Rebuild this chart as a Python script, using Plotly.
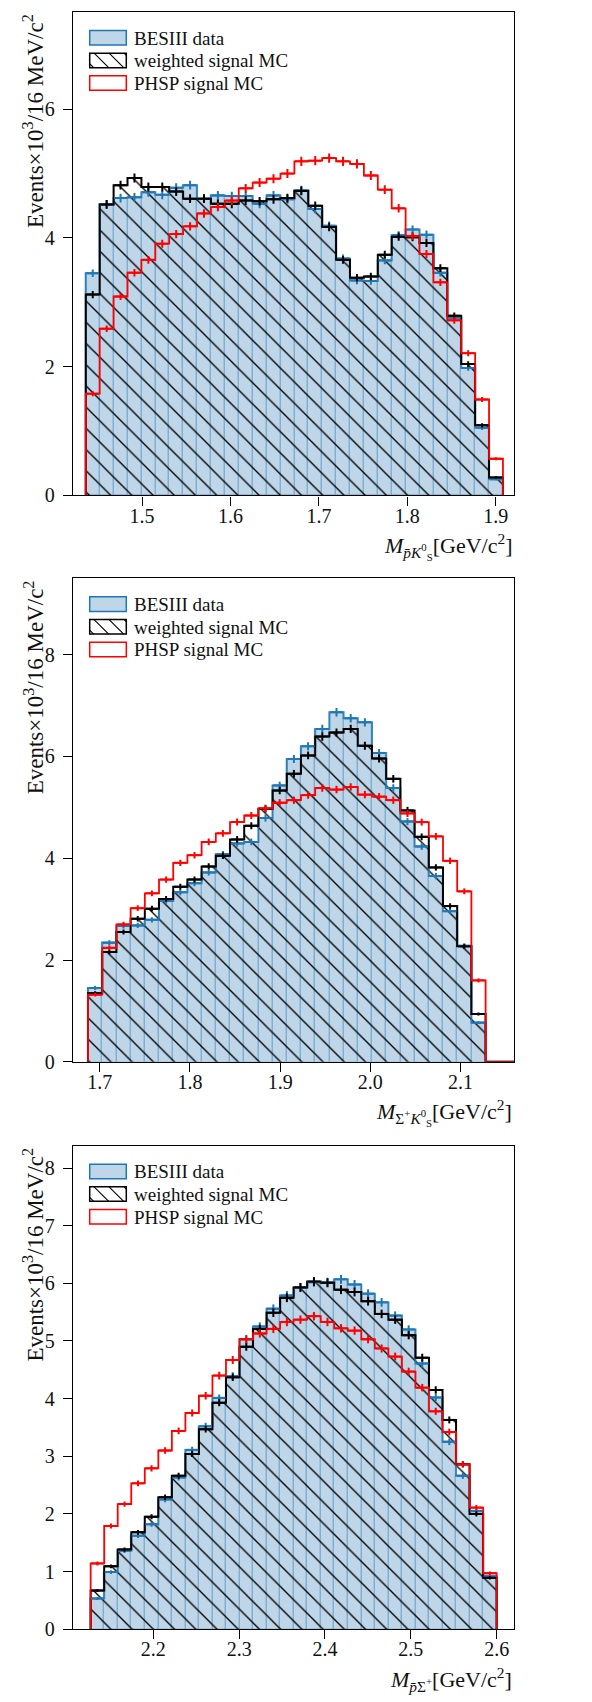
import numpy as np
import plotly.graph_objects as go

# ---------------- data (Events x 10^3 per bin) ----------------
# Panel 1: M(pbar K_S^0)
p1_lo, p1_binw, p1_nbins = 1.4363, 0.01573, 30
p1_data = [3.45, 4.52, 4.62, 4.63, 4.71, 4.67, 4.78, 4.82, 4.61, 4.66, 4.65, 4.65, 4.53, 4.66, 4.60,
           4.74, 4.45, 4.19, 3.68, 3.34, 3.33, 3.65, 4.04, 4.13, 4.05, 3.46, 2.76, 1.98, 1.05, 0.25]
p1_wmc = [3.12, 4.52, 4.82, 4.93, 4.79, 4.79, 4.72, 4.61, 4.61, 4.53, 4.53, 4.58, 4.57, 4.60, 4.62,
          4.73, 4.50, 4.17, 3.66, 3.38, 3.40, 3.74, 4.02, 4.01, 3.92, 3.53, 2.79, 2.04, 1.09, 0.28]
p1_phsp = [1.58, 2.59, 3.09, 3.46, 3.66, 3.91, 4.06, 4.18, 4.38, 4.48, 4.58, 4.77, 4.86, 4.92, 5.00,
           5.19, 5.20, 5.24, 5.19, 5.15, 4.97, 4.75, 4.46, 4.03, 3.75, 3.31, 2.72, 2.21, 1.49, 0.57]
p1_xticks = [1.5, 1.6, 1.7, 1.8, 1.9]
p1_yticks = [0, 2, 4, 6]

# Panel 2: M(Sigma+ K_S^0)
p2_lo, p2_binw, p2_nbins = 1.68707, 0.015737, 30
p2_data = [1.45, 2.34, 2.67, 2.68, 2.79, 3.16, 3.33, 3.51, 3.72, 4.08, 4.29, 4.32, 4.79, 5.43, 5.95,
           6.20, 6.54, 6.87, 6.75, 6.67, 6.07, 5.38, 4.72, 4.23, 3.65, 2.96, 2.28, 0.77, 0.0, 0.0]
p2_wmc = [1.35, 2.16, 2.55, 2.81, 3.01, 3.20, 3.44, 3.58, 3.84, 4.05, 4.37, 4.64, 4.97, 5.33, 5.66,
          6.02, 6.39, 6.47, 6.54, 6.21, 5.96, 5.56, 4.94, 4.42, 3.82, 3.06, 2.27, 0.94, 0.0, 0.0]
p2_phsp = [1.32, 2.24, 2.70, 3.02, 3.31, 3.58, 3.91, 4.06, 4.32, 4.49, 4.71, 4.84, 4.98, 5.09, 5.14,
           5.24, 5.38, 5.35, 5.40, 5.25, 5.21, 5.14, 4.88, 4.71, 4.43, 3.95, 3.35, 1.60, 0.0, 0.0]
p2_xticks = [1.7, 1.8, 1.9, 2.0, 2.1]
p2_yticks = [0, 2, 4, 6, 8]

# Panel 3: M(pbar Sigma+)
p3_lo, p3_binw, p3_nbins = 2.12699, 0.015767, 30
p3_data = [0.53, 0.99, 1.36, 1.62, 1.82, 2.25, 2.63, 3.11, 3.52, 4.01, 4.39, 5.03, 5.25, 5.56, 5.79,
           5.93, 6.02, 6.02, 6.07, 5.98, 5.82, 5.67, 5.44, 5.20, 4.61, 4.02, 3.25, 2.66, 2.05, 0.92]
p3_wmc = [0.67, 1.09, 1.38, 1.68, 1.95, 2.29, 2.66, 3.04, 3.47, 3.93, 4.37, 4.90, 5.21, 5.49, 5.75,
          5.93, 6.03, 6.01, 5.89, 5.85, 5.69, 5.47, 5.37, 5.10, 4.71, 4.15, 3.63, 2.86, 2.00, 0.89]
p3_phsp = [1.14, 1.79, 2.17, 2.53, 2.79, 3.10, 3.44, 3.75, 4.05, 4.40, 4.67, 5.03, 5.13, 5.21, 5.33,
           5.37, 5.43, 5.33, 5.22, 5.18, 5.03, 4.87, 4.73, 4.47, 4.19, 3.78, 3.42, 2.86, 2.11, 0.97]
p3_xticks = [2.2, 2.3, 2.4, 2.5, 2.6]
p3_yticks = [0, 1, 2, 3, 4, 5, 6, 7, 8]

legend_names = ["BESIII data", "weighted signal MC", "PHSP signal MC"]
ytitle = "Events×10<sup>3</sup>/16 MeV/c<sup>2</sup>"
xtitles = [
    "<i>M</i><sub><i>p̄K</i><sup>0</sup><sub>S</sub></sub>[GeV/c<sup>2</sup>]",
    "<i>M</i><sub>Σ<sup>+</sup><i>K</i><sup>0</sup><sub>S</sub></sub>[GeV/c<sup>2</sup>]",
    "<i>M</i><sub><i>p̄</i>Σ<sup>+</sup></sub>[GeV/c<sup>2</sup>]",
]

# ---------------- styling / layout ----------------
W, H = 592, 1702
FONT = "Liberation Serif"
TXT = "#111111"
BLUE = "#1f77b4"
FILL = "#bfd6e8"
RED = "#ff0000"
HATCH = 15

frame_l, frame_r = 64.8, 506.0
panels_px = [(4.0, 490.6), (574.0, 1060.7), (1145.0, 1631.7)]
xranges = [(1.4216, 1.9207), (1.6702, 2.1592), (2.1062, 2.6202)]
yranges = [(0, 7.51), (0, 9.5), (0, 8.39)]

panels = [
    (p1_lo, p1_binw, p1_nbins, p1_data, p1_wmc, p1_phsp, p1_xticks, p1_yticks),
    (p2_lo, p2_binw, p2_nbins, p2_data, p2_wmc, p2_phsp, p2_xticks, p2_yticks),
    (p3_lo, p3_binw, p3_nbins, p3_data, p3_wmc, p3_phsp, p3_xticks, p3_yticks),
]

fig = go.Figure()


def step_xy(edges, vals):
    xs = [edges[0]] + list(edges) + [edges[-1]]
    ys = [0.0] + list(vals) + [vals[-1], 0.0]
    return xs, ys


layout = dict(
    width=W, height=H, margin=dict(l=0, r=0, t=0, b=0),
    paper_bgcolor="white", plot_bgcolor="white",
    barmode="overlay", bargap=0, showlegend=False,
    font=dict(family=FONT, color=TXT),
)
annotations = []
shapes = []

for k, (lo, bw, nb, data, wmc, phsp, xt, yt) in enumerate(panels):
    sfx = "" if k == 0 else str(k + 1)
    xa, ya = "x" + sfx, "y" + sfx
    edges = lo + bw * np.arange(nb + 1)
    centers = 0.5 * (edges[:-1] + edges[1:])
    data = np.array(data, float)
    wmc = np.array(wmc, float)
    phsp = np.array(phsp, float)

    # filled data histogram
    fig.add_trace(go.Bar(x=centers, y=data, width=bw, xaxis=xa, yaxis=ya, name=legend_names[0],
                         marker=dict(color=FILL, line=dict(color="rgba(31,119,180,0.45)", width=1)),
                         hoverinfo="skip"))
    # hatched weighted MC
    fig.add_trace(go.Bar(x=centers, y=wmc, width=bw, xaxis=xa, yaxis=ya, name=legend_names[1],
                         marker=dict(color="rgba(0,0,0,0)", line=dict(width=0),
                                     pattern=dict(shape="\\", fgcolor="black", bgcolor="rgba(0,0,0,0)",
                                                  fgopacity=1, size=HATCH, solidity=0.09)),
                         hoverinfo="skip"))
    # step outlines
    for vals, col, lw, nm in [(data, "rgba(31,119,180,0.85)", 2.0, legend_names[0]),
                              (wmc, "black", 2.0, legend_names[1]),
                              (phsp, RED, 1.8, legend_names[2])]:
        sx, sy = step_xy(edges, vals)
        fig.add_trace(go.Scatter(x=sx, y=sy, xaxis=xa, yaxis=ya, mode="lines", name=nm,
                                 line=dict(color=col, width=lw, shape="hv"), hoverinfo="skip"))
    # error crosses
    for vals, col, nm in [(data, BLUE, legend_names[0]), (wmc, "black", legend_names[1]),
                          (phsp, RED, legend_names[2])]:
        mask = vals > 0
        err = np.sqrt(vals[mask] * 1000.0) / 1000.0
        fig.add_trace(go.Scatter(x=centers[mask], y=vals[mask], xaxis=xa, yaxis=ya, mode="markers",
                                 name=nm,
                                 marker=dict(symbol="line-ew", size=9, line=dict(color=col, width=2)),
                                 error_y=dict(type="data", array=err, visible=True, color=col,
                                              thickness=2, width=0),
                                 hoverinfo="skip"))

    top, bot = panels_px[k]
    pw, ph = frame_r - frame_l, bot - top
    ydom = [1 - bot / H, 1 - top / H]
    axis_common = dict(showline=True, linecolor="black", linewidth=1.3, mirror=True,
                       ticks="outside", ticklen=9, tickwidth=1.3, tickcolor="black",
                       showgrid=False, zeroline=False,
                       tickfont=dict(family=FONT, size=20, color=TXT))
    layout["xaxis" + sfx] = dict(axis_common, domain=[frame_l / W, frame_r / W], range=list(xranges[k]),
                                 tickvals=xt, ticktext=[f"{v:.1f}" for v in xt], anchor=ya,
                                 ticklabelstandoff=-7)
    layout["yaxis" + sfx] = dict(axis_common, domain=ydom, range=list(yranges[k]),
                                 tickvals=yt, ticktext=[str(v) for v in yt], anchor=xa,
                                 ticklabelstandoff=4)

    # ---- hand-drawn legend (pixel offsets inside the frame) ----
    def dx(px):
        return (px - frame_l) / pw

    def dy(py):
        return 1 - py / ph

    px0, px1 = 81.7, 118.3
    rows = [18.7, 41.5, 64.3]
    rh = 14.6
    styles = [
        dict(fillcolor=FILL, line=dict(color=BLUE, width=1.5)),
        dict(fillcolor="white", line=dict(color="black", width=1.5)),
        dict(fillcolor="white", line=dict(color=RED, width=1.5)),
    ]
    for r, (ry, st) in enumerate(zip(rows, styles)):
        shapes.append(dict(type="rect", xref=xa + " domain", yref=ya + " domain",
                           x0=dx(px0), x1=dx(px1), y0=dy(ry + rh), y1=dy(ry), layer="above", **st))
        if r == 1:
            # diagonal hatch lines clipped to the patch: x - y = c (screen coords)
            for c in np.arange(px0 - ry - rh + 4, px1 - ry, HATCH):
                xa0 = max(px0, ry + c)
                xa1 = min(px1, ry + rh + c)
                if xa1 - xa0 < 0.5:
                    continue
                shapes.append(dict(type="line", xref=xa + " domain", yref=ya + " domain",
                                   x0=dx(xa0), y0=dy(xa0 - c), x1=dx(xa1), y1=dy(xa1 - c),
                                   layer="above", line=dict(color="black", width=1.1)))
        annotations.append(dict(text=legend_names[r], xref=xa + " domain", x=dx(124.0), xanchor="left",
                                yref=ya + " domain", y=dy(ry + rh / 2 + 0.5), yanchor="middle",
                                showarrow=False, font=dict(family=FONT, size=19, color=TXT)))

    annotations.append(dict(text=ytitle, textangle=-90, xref="paper", x=26 / W, xanchor="center",
                            yref=ya + " domain", y=1.0, yanchor="top", showarrow=False,
                            font=dict(family=FONT, size=23, color=TXT)))
    annotations.append(dict(text=xtitles[k], xref=xa + " domain", x=1.0, xanchor="right",
                            yref=ya + " domain", y=-(51 / ph), yanchor="middle", showarrow=False,
                            font=dict(family=FONT, size=22, color=TXT)))

layout["annotations"] = annotations
layout["shapes"] = shapes
fig.update_layout(**layout)
fig.write_html("out.html")
